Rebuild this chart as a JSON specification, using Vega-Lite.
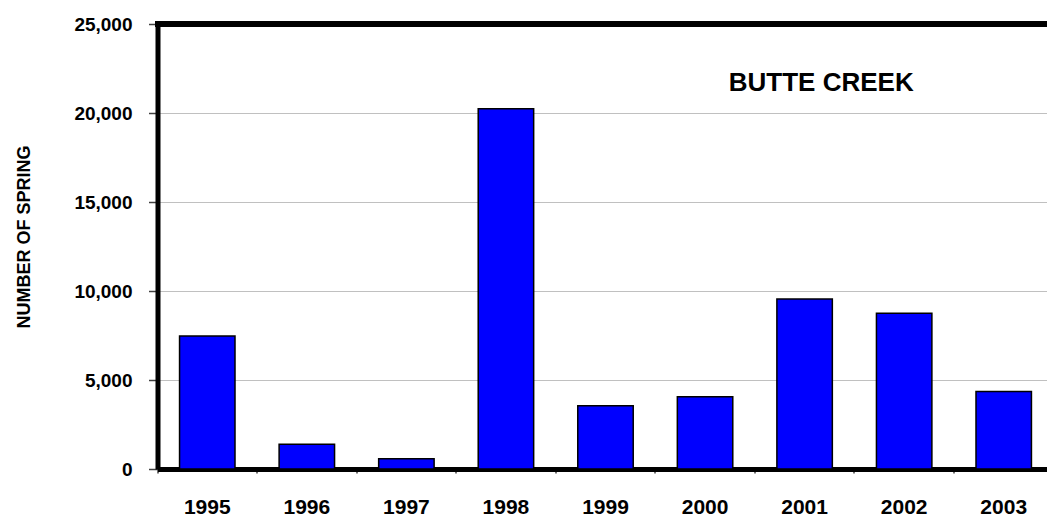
{
  "$schema": "https://vega.github.io/schema/vega-lite/v6.json",
  "width": 889.5,
  "height": 445,
  "autosize": {"type": "none"},
  "padding": {"left": 157.5, "top": 24, "right": 0, "bottom": 48},
  "background": "white",
  "title": {
    "text": "BUTTE CREEK",
    "anchor": "middle",
    "frame": "group",
    "dx": 219,
    "dy": 102,
    "offset": 0,
    "baseline": "alphabetic",
    "fontSize": 26,
    "fontWeight": "bold",
    "font": "Liberation Sans",
    "color": "black"
  },
  "data": {
    "values": [
      {"year": "1995", "count": 7470},
      {"year": "1996", "count": 1390},
      {"year": "1997", "count": 580},
      {"year": "1998", "count": 20240},
      {"year": "1999", "count": 3560},
      {"year": "2000", "count": 4060},
      {"year": "2001", "count": 9550},
      {"year": "2002", "count": 8750},
      {"year": "2003", "count": 4360}
    ]
  },
  "layer": [
    {
      "mark": {"type": "bar", "color": "#0000FF", "stroke": "black", "strokeWidth": 1.5, "width": {"band": 0.557}},
      "encoding": {
        "x": {
          "field": "year",
          "type": "ordinal",
          "scale": {"range": [0, 896], "paddingInner": 0, "paddingOuter": 0},
          "axis": {
            "title": null,
            "labelAngle": 0,
            "bandPosition": 0,
            "labelOffset": 0,
            "domainColor": "black",
            "domainWidth": 5,
            "ticks": true,
            "tickSize": 4,
            "tickColor": "#404040",
            "tickWidth": 1.5,
            "labelPadding": 23,
            "labelFontSize": 21,
            "labelFont": "Liberation Sans",
            "labelFontWeight": "bold",
            "labelColor": "black",
            "labelBaseline": "top"
          }
        },
        "y": {
          "field": "count",
          "type": "quantitative",
          "scale": {"domain": [0, 25000], "nice": false},
          "axis": {
            "title": "NUMBER OF SPRING",
            "titleFont": "Liberation Sans",
            "titleFontSize": 18,
            "titleFontWeight": "bold",
            "titleColor": "black",
            "titleX": -133.5,
            "titleY": 212.5,
            "titleAngle": -90,
            "titleAlign": "center",
            "titleBaseline": "middle",
            "values": [0, 5000, 10000, 15000, 20000, 25000],
            "format": ",.0f",
            "labelFontSize": 19,
            "labelFont": "Liberation Sans",
            "labelFontWeight": "bold",
            "labelColor": "black",
            "labelPadding": 16.5,
            "tickSize": 9,
            "tickColor": "#404040",
            "tickWidth": 1.5,
            "domainColor": "black",
            "domainWidth": 5,
            "grid": true,
            "gridColor": "#c0c0c0",
            "gridWidth": 1
          }
        }
      }
    },
    {
      "mark": {"type": "rule", "color": "black", "strokeWidth": 5, "strokeCap": "square"},
      "encoding": {"y": {"datum": 25000}}
    }
  ],
  "config": {"view": {"stroke": null}}
}
